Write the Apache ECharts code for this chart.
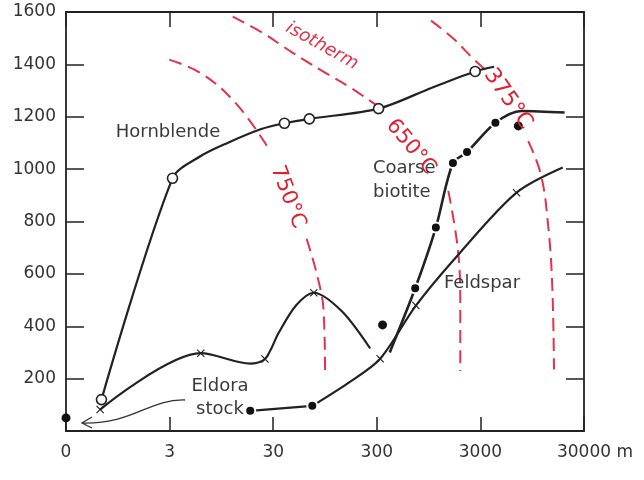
<!DOCTYPE html>
<html>
<head>
<meta charset="utf-8">
<script src="https://cdn.jsdelivr.net/npm/echarts@6/dist/echarts.min.js"></script>
<style>
html,body{margin:0;padding:0;background:#fff;}
#chart{width:644px;height:480px;}
</style>
</head>
<body>
<div id="chart"></div>
<script>
// ---- data (distance in metres from contact, apparent age) ----
const xTickLabels = ['0', '3', '30', '300', '3000', '30000 m'];

const hbDist = [0.66, 3.2, 6.0, 11, 23, 38.5, 67, 312, 1020, 2670, 4070];
const hbAge  = [120, 965, 1050, 1101, 1153, 1175, 1192, 1231, 1311, 1373, 1391];
const hbMeas = [1, 1, 0, 0, 0, 1, 1, 1, 0, 1, 0];

const fsADist = [0.64, 6.0, 18, 25, 34, 50, 74, 138, 259];
const fsAAge  = [82, 297, 257, 275, 376, 480, 528, 457, 315];
const fsAMeas = [1, 1, 0, 1, 0, 0, 1, 0, 0];

const fsBDist = [71.5, 157, 323, 715, 1890, 6700, 18700];
const fsBAge  = [96, 182, 276, 479, 679, 910, 1006];
const fsBMeas = [0, 0, 1, 1, 0, 1, 0];

const stockDist = [0];
const stockAge  = [50];

const btADist = [18, 71.5];
const btAAge  = [77, 96];

const btBDist = [400, 704, 1115, 1630, 2230, 4190, 7500, 19500];
const btBAge  = [300, 545, 777, 1023, 1065, 1177, 1222, 1216];
const btBMeas = [0, 1, 1, 1, 1, 1, 0, 0];

const btLooseDist = [341, 6970];
const btLooseAge  = [405, 1165];

const iso750Dist = [2.98, 6.2, 13.3, 27, null, 63, 80, 92, 95];
const iso750Temp = [1418, 1363, 1248, 1080, null, 734, 592, 459, 222];
const iso650Dist = [12.2, 23.7, 46, 89, 172, 313, null, 1470, 1810, 1920, 1920];
const iso650Temp = [1582, 1520, 1445, 1375, 1308, 1238, null, 917, 700, 490, 229];
const iso375Dist = [1000, 1620, 2510, 3490, null, 8680, 11500, 13500, 14800, 15400];
const iso375Temp = [1567, 1501, 1425, 1373, null, 1107, 980, 788, 560, 235];

// ---- helpers ----
const pos = d => d <= 0 ? 0 : Math.log10(d / 0.3);
function pts(dist, age, meas) {
  return dist.map((d, i) => {
    if (d === null || age[i] === null) return '-';
    const item = { value: [pos(d), age[i]] };
    if (meas && !meas[i]) item.symbol = 'none';
    return item;
  });
}

const INK = '#222';
const RED = '#e3324a';
const crossPath = 'path://M1,0L5,4L9,0L10,1L6,5L10,9L9,10L5,6L1,10L0,9L4,5L0,1Z';
const FONT = 'DejaVu Sans';

const chart = echarts.init(document.getElementById('chart'), null, { renderer: 'canvas' });

function isoSeries(dist, temp) {
  return {
    type: 'line', data: pts(dist, temp), smooth: 0.4, symbol: 'none', z: 1,
    lineStyle: { color: RED, width: 2, type: [13, 7] }, connectNulls: false
  };
}

const lineBase = { type: 'line', smooth: 0.3, z: 3 };

const option = {
  animation: false,
  backgroundColor: '#fff',
  grid: { left: 66, right: 60, top: 12, bottom: 49, containLabel: false, outerBoundsMode: 'none' },
  xAxis: [
    {
      type: 'value', min: 0, max: 5, interval: 1, position: 'bottom',
      axisLine: { show: true, onZero: false, lineStyle: { color: INK, width: 1.8 } },
      axisTick: { show: true, inside: true, length: 14, lineStyle: { color: INK, width: 1.5 } },
      splitLine: { show: false },
      axisLabel: {
        show: true, margin: 13, color: '#333', fontSize: 17, fontFamily: FONT,
        formatter: v => {
          const i = Math.round(v);
          if (i === xTickLabels.length - 1) return '{last|' + xTickLabels[i] + '}';
          return xTickLabels[i];
        },
        rich: { last: { padding: [0, 0, 0, 22], fontSize: 17, fontFamily: FONT, color: '#333' } }
      }
    },
    {
      type: 'value', min: 0, max: 5, interval: 1, position: 'top',
      axisLine: { show: true, onZero: false, lineStyle: { color: INK, width: 1.8 } },
      axisTick: { show: true, inside: true, length: 15, lineStyle: { color: INK, width: 1.5 } },
      splitLine: { show: false }, axisLabel: { show: false }
    }
  ],
  yAxis: [
    {
      type: 'value', min: 0, max: 1600, interval: 200, position: 'left',
      axisLine: { show: true, onZero: false, lineStyle: { color: INK, width: 1.8 } },
      axisTick: { show: true, inside: true, length: 18, lineStyle: { color: INK, width: 1.5 } },
      splitLine: { show: false },
      axisLabel: { margin: 10, color: '#333', fontSize: 17, fontFamily: FONT,
        formatter: v => v === 0 ? '' : String(v) }
    },
    {
      type: 'value', min: 0, max: 1600, interval: 200, position: 'right',
      axisLine: { show: true, onZero: false, lineStyle: { color: INK, width: 1.8 } },
      axisTick: { show: true, inside: true, length: 18, lineStyle: { color: INK, width: 1.5 } },
      splitLine: { show: false }, axisLabel: { show: false }
    }
  ],
  series: [
    isoSeries(iso750Dist, iso750Temp),
    isoSeries(iso650Dist, iso650Temp),
    isoSeries(iso375Dist, iso375Temp),
    Object.assign({}, lineBase, {
      name: 'Hornblende', data: pts(hbDist, hbAge, hbMeas),
      symbol: 'circle', symbolSize: 10,
      itemStyle: { color: '#fff', borderColor: INK, borderWidth: 1.6, opacity: 1 },
      lineStyle: { color: INK, width: 2.2 }
    }),
    Object.assign({}, lineBase, {
      name: 'Feldspar', data: pts(fsADist, fsAAge, fsAMeas),
      symbol: crossPath, symbolSize: 8,
      itemStyle: { color: INK, opacity: 1 },
      lineStyle: { color: INK, width: 2.2 }
    }),
    Object.assign({}, lineBase, {
      name: 'Feldspar 2', data: pts(fsBDist, fsBAge, fsBMeas),
      symbol: crossPath, symbolSize: 8,
      itemStyle: { color: INK, opacity: 1 },
      lineStyle: { color: INK, width: 2.2 }
    }),
    Object.assign({}, lineBase, {
      name: 'Biotite near stock', data: pts(btADist, btAAge),
      symbol: 'circle', symbolSize: 10, smooth: false,
      itemStyle: { color: '#111', borderColor: '#fff', borderWidth: 2, opacity: 1 },
      lineStyle: { color: INK, width: 2.2 }, z: 4
    }),
    Object.assign({}, lineBase, {
      name: 'Coarse biotite', data: pts(btBDist, btBAge, btBMeas),
      symbol: 'circle', symbolSize: 10,
      itemStyle: { color: '#111', borderColor: '#fff', borderWidth: 2, opacity: 1 },
      lineStyle: { color: INK, width: 2.6 }, z: 4
    }),
    {
      type: 'scatter', z: 4, symbol: 'circle', symbolSize: 9,
      itemStyle: { color: '#111', opacity: 1 },
      data: pts(btLooseDist, btLooseAge)
    },
    {
      type: 'scatter', z: 4, symbol: 'circle', symbolSize: 9,
      itemStyle: { color: '#111', opacity: 1 },
      data: pts(stockDist, stockAge)
    }
  ],
  graphic: [
    { type: 'text', x: 168, y: 132, z: 10, style: { text: 'Hornblende', fontSize: 18, fontFamily: FONT, fill: '#3a3a3a', align: 'center', verticalAlign: 'middle' } },
    { type: 'text', x: 373, y: 180, z: 10, style: { text: 'Coarse\nbiotite', fontSize: 18, lineHeight: 24, fontFamily: FONT, fill: '#3a3a3a', align: 'left', verticalAlign: 'middle' } },
    { type: 'text', x: 482, y: 283, z: 10, style: { text: 'Feldspar', fontSize: 18, fontFamily: FONT, fill: '#3a3a3a', align: 'center', verticalAlign: 'middle' } },
    { type: 'text', x: 220, y: 398, z: 10, style: { text: 'Eldora\nstock', fontSize: 18, lineHeight: 23, fontFamily: FONT, fill: '#3a3a3a', align: 'center', verticalAlign: 'middle' } },
    { type: 'text', x: 288, y: 197, z: 10, rotation: -69 * Math.PI / 180, style: { text: '750°C', fontSize: 21, fontFamily: FONT, fill: '#e01f30', align: 'center', verticalAlign: 'middle' } },
    { type: 'text', x: 411, y: 147, z: 10, rotation: -50 * Math.PI / 180, style: { text: '650°C', fontSize: 21, fontFamily: FONT, fill: '#e01f30', align: 'center', verticalAlign: 'middle' } },
    { type: 'text', x: 508, y: 99, z: 10, rotation: -55 * Math.PI / 180, style: { text: '375°C', fontSize: 22, fontFamily: FONT, fill: '#e01f30', align: 'center', verticalAlign: 'middle' } },
    { type: 'text', x: 322, y: 46, z: 10, rotation: -29 * Math.PI / 180, style: { text: 'isotherm', fontSize: 18, fontStyle: 'italic', fontFamily: FONT, fill: '#e3324a', align: 'center', verticalAlign: 'middle' } },
    { type: 'bezierCurve', z: 10, shape: { x1: 185, y1: 400, cpx1: 148, cpy1: 399, cpx2: 135, cpy2: 424, x2: 82, y2: 423 }, style: { stroke: '#333', lineWidth: 1.3, fill: null } },
    { type: 'polyline', z: 10, shape: { points: [[92, 417], [82, 423], [92, 428]] }, style: { stroke: '#333', lineWidth: 1.3, fill: null } }
  ]
};

chart.setOption(option);
</script>
</body>
</html>
